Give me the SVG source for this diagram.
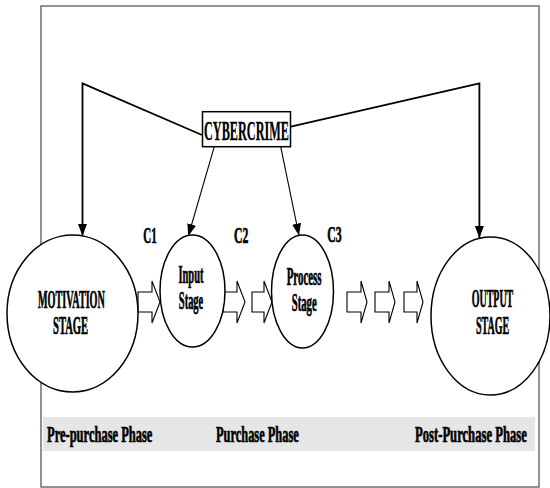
<svg xmlns="http://www.w3.org/2000/svg" width="550" height="488" viewBox="0 0 550 488">
  <style>
    .frame { fill: none; stroke: #6e6e6e; stroke-width: 1.5; }
    .stage { fill: #ffffff; stroke: #000000; stroke-width: 1.5; }
    .flow { fill: #ffffff; stroke: #000000; stroke-width: 1.1; stroke-linejoin: miter; }
    .link { fill: none; stroke: #000000; stroke-width: 1.8; }
    .drop { fill: none; stroke: #000000; stroke-width: 1.1; }
    .band { fill: #e6e6e6; }
    text { font-family: "Liberation Serif", "Times New Roman", serif; fill: #000000; font-weight: bold; stroke: #000000; stroke-width: 0.7; }
    .lbl { font-size: 25px; }
    .ck { font-size: 24px; }
    .phase { font-size: 24px; }
    .crime { font-size: 28px; stroke-width: 0.3; }
  </style>
  <defs>
    <marker id="tri" markerUnits="userSpaceOnUse" markerWidth="13" markerHeight="9" refX="12" refY="4.5" orient="auto">
      <path d="M0,0 L12,4.5 L0,9 z" fill="#000000"/>
    </marker>
  </defs>

  <!-- outer frame -->
  <rect class="frame" x="41" y="6" width="498" height="481"/>

  <!-- phase band -->
  <rect class="band" x="43" y="417" width="492" height="34"/>
  <g id="phases">
    <text class="phase" transform="translate(47,442) scale(0.521,1)">Pre-purchase Phase</text>
    <text class="phase" transform="translate(216,442) scale(0.517,1)">Purchase Phase</text>
    <text class="phase" transform="translate(415,442) scale(0.527,1)">Post-Purchase Phase</text>
  </g>

  <!-- connectors -->
  <g id="connectors">
    <polyline class="link" points="202,135 82.5,83.3 82.5,236" marker-end="url(#tri)"/>
    <polyline class="link" points="290.8,126.7 479.4,83.3 479.4,238" marker-end="url(#tri)"/>
    <line class="drop" x1="214.3" y1="146.7" x2="188.3" y2="236" marker-end="url(#tri)"/>
    <line class="drop" x1="280.7" y1="146.7" x2="299" y2="235.5" marker-end="url(#tri)"/>
  </g>

  <!-- flow arrows between stages -->
  <g id="flow-arrows">
    <path class="flow" d="M138,292 L152,292 L152,281 L160,302 L152,323 L152,312 L138,312 z"/>
    <path class="flow" d="M223,292 L237,292 L237,281 L245,302 L237,323 L237,312 L223,312 z"/>
    <path class="flow" d="M252,292 L264,292 L264,281 L272,302 L264,323 L264,312 L252,312 z"/>
    <path class="flow" d="M347,292 L361,292 L361,281 L367,302 L361,323 L361,312 L347,312 z"/>
    <path class="flow" d="M375,292 L389,292 L389,281 L395,302 L389,323 L389,312 L375,312 z"/>
    <path class="flow" d="M404,292 L417,292 L417,281 L423,302 L417,323 L417,312 L404,312 z"/>
  </g>

  <!-- source node -->
  <g id="cybercrime">
    <rect class="stage" x="202.5" y="111.7" width="88" height="35"/>
    <text class="crime" transform="translate(204,140) scale(0.437,1)">CYBERCRIME</text>
  </g>

  <g id="motivation">
    <ellipse class="stage" cx="72.5" cy="313.5" rx="65.5" ry="78.5"/>
    <text class="lbl" transform="translate(38,308) scale(0.407,1)">MOTIVATION</text>
    <text class="lbl" transform="translate(53,334) scale(0.425,1)">STAGE</text>
  </g>

  <g id="input">
    <ellipse class="stage" cx="192.5" cy="291" rx="32.5" ry="56"/>
    <text class="lbl" transform="translate(178.5,283) scale(0.418,1)">Input</text>
    <text class="lbl" transform="translate(178.8,309) scale(0.42,1)">Stage</text>
  </g>

  <g id="process">
    <ellipse class="stage" cx="302.5" cy="291.5" rx="31" ry="56.5"/>
    <text class="lbl" transform="translate(286.7,285) scale(0.435,1)">Process</text>
    <text class="lbl" transform="translate(291.7,311) scale(0.429,1)">Stage</text>
  </g>

  <g id="output">
    <ellipse class="stage" cx="490.5" cy="316" rx="59.5" ry="79"/>
    <text class="lbl" transform="translate(471.7,307) scale(0.399,1)">OUTPUT</text>
    <text class="lbl" transform="translate(476,334) scale(0.401,1)">STAGE</text>
  </g>

  <g id="checkpoints">
    <text class="ck" transform="translate(143.3,242.5) scale(0.457,1)">C1</text>
    <text class="ck" transform="translate(234,242.5) scale(0.488,1)">C2</text>
    <text class="ck" transform="translate(327.3,242) scale(0.491,1)">C3</text>
  </g>
</svg>
